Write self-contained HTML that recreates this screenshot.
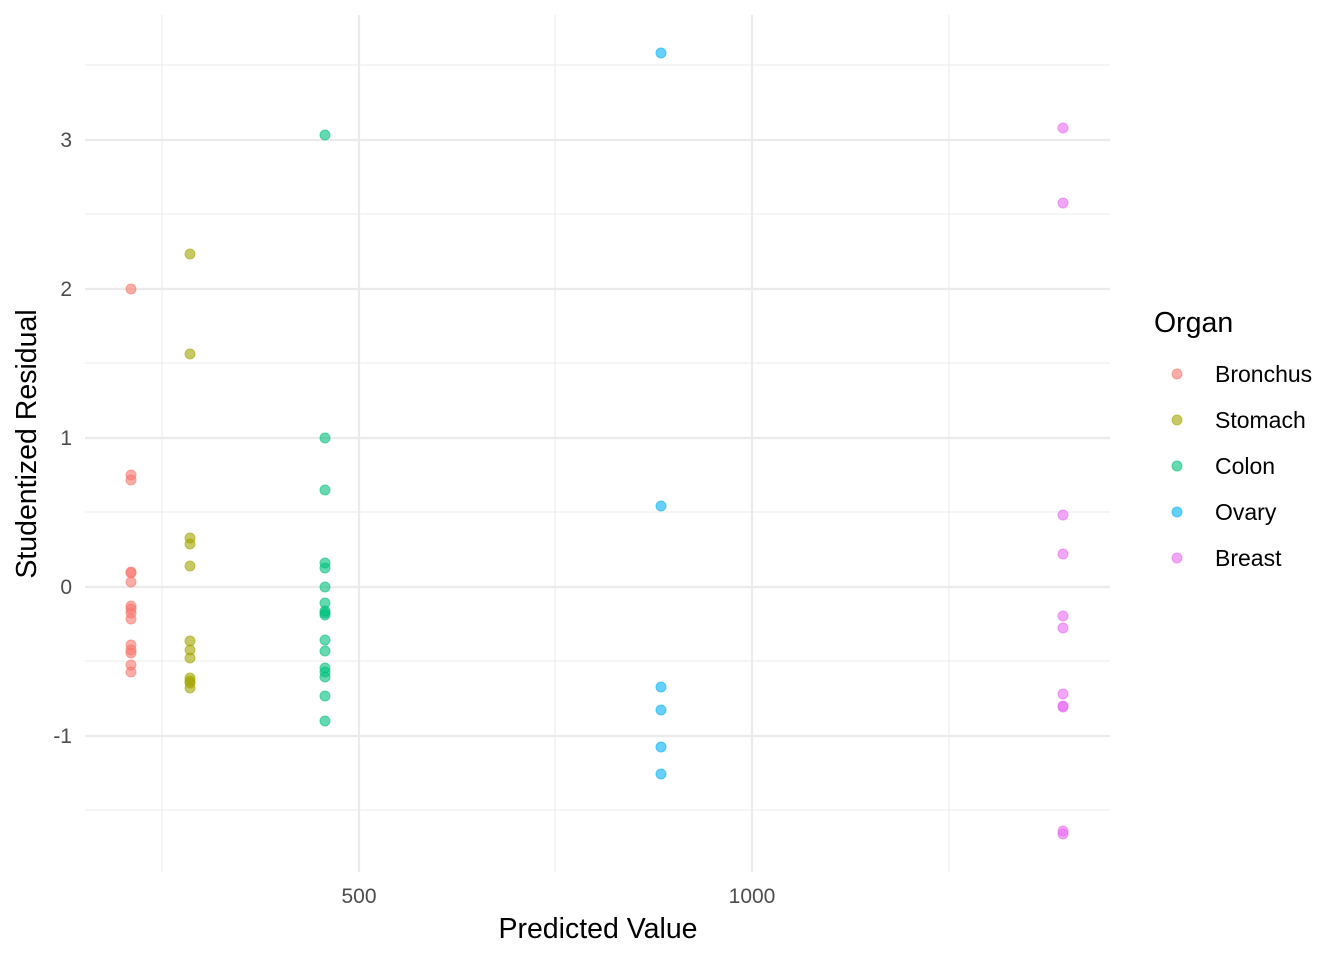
<!DOCTYPE html>
<html><head><meta charset="utf-8"><style>body{margin:0;background:#fff}</style></head><body>
<svg width="1344" height="960" xmlns="http://www.w3.org/2000/svg" font-family="Liberation Sans, sans-serif">
<g stroke="#ebebeb" stroke-width="1.1">
<line x1="85" x2="1110" y1="65" y2="65"/><line x1="85" x2="1110" y1="214" y2="214"/><line x1="85" x2="1110" y1="363" y2="363"/><line x1="85" x2="1110" y1="512" y2="512"/><line x1="85" x2="1110" y1="661" y2="661"/><line x1="85" x2="1110" y1="810" y2="810"/>
<line x1="162" x2="162" y1="15" y2="872"/><line x1="555" x2="555" y1="15" y2="872"/><line x1="949" x2="949" y1="15" y2="872"/>
</g>
<g stroke="#ebebeb" stroke-width="2.2">
<line x1="85" x2="1110" y1="140" y2="140"/><line x1="85" x2="1110" y1="289" y2="289"/><line x1="85" x2="1110" y1="438" y2="438"/><line x1="85" x2="1110" y1="587" y2="587"/><line x1="85" x2="1110" y1="736" y2="736"/>
<line x1="359" x2="359" y1="15" y2="872"/><line x1="752" x2="752" y1="15" y2="872"/>
</g>
<g font-size="21" fill="#4d4d4d" text-anchor="end">
<text x="72" y="147">3</text><text x="72" y="296">2</text><text x="72" y="445">1</text><text x="72" y="594">0</text><text x="72" y="743">-1</text>
</g>
<g font-size="21" fill="#4d4d4d" text-anchor="middle">
<text x="359" y="903">500</text><text x="752" y="903">1000</text>
</g>
<text x="598" y="938" font-size="28.5" text-anchor="middle">Predicted Value</text>
<text transform="translate(36,444) rotate(-90)" font-size="28.5" text-anchor="middle">Studentized Residual</text>
<text x="1154" y="332" font-size="28.5">Organ</text>
<g font-size="23">
<circle cx="1177" cy="374" r="5" fill="#F8766D" fill-opacity="0.6" stroke="#F8766D" stroke-opacity="0.6"/><text x="1215" y="382">Bronchus</text>
<circle cx="1177" cy="420" r="5" fill="#A3A500" fill-opacity="0.6" stroke="#A3A500" stroke-opacity="0.6"/><text x="1215" y="428">Stomach</text>
<circle cx="1177" cy="466" r="5" fill="#00BF7D" fill-opacity="0.6" stroke="#00BF7D" stroke-opacity="0.6"/><text x="1215" y="474">Colon</text>
<circle cx="1177" cy="512" r="5" fill="#00B0F6" fill-opacity="0.6" stroke="#00B0F6" stroke-opacity="0.6"/><text x="1215" y="520">Ovary</text>
<circle cx="1177" cy="558" r="5" fill="#E76BF3" fill-opacity="0.6" stroke="#E76BF3" stroke-opacity="0.6"/><text x="1215" y="566">Breast</text>
</g>
<g fill-opacity="0.6" stroke-opacity="0.6" stroke-width="1">
<g fill="#F8766D" stroke="#F8766D">
<circle cx="131" cy="289" r="5"/><circle cx="131" cy="475" r="5"/><circle cx="131" cy="480" r="5"/><circle cx="131" cy="572" r="5"/><circle cx="131" cy="573" r="5"/><circle cx="131" cy="582" r="5"/><circle cx="131" cy="606" r="5"/><circle cx="131" cy="609" r="5"/><circle cx="131" cy="613" r="5"/><circle cx="131" cy="619" r="5"/><circle cx="131" cy="645" r="5"/><circle cx="131" cy="650" r="5"/><circle cx="131" cy="653" r="5"/><circle cx="131" cy="665" r="5"/><circle cx="131" cy="672" r="5"/>
</g>
<g fill="#A3A500" stroke="#A3A500">
<circle cx="190" cy="254" r="5"/><circle cx="190" cy="354" r="5"/><circle cx="190" cy="538" r="5"/><circle cx="190" cy="544" r="5"/><circle cx="190" cy="566" r="5"/><circle cx="190" cy="641" r="5"/><circle cx="190" cy="650" r="5"/><circle cx="190" cy="658" r="5"/><circle cx="190" cy="678" r="5"/><circle cx="190" cy="681" r="5"/><circle cx="190" cy="683" r="5"/><circle cx="190" cy="688" r="5"/>
</g>
<g fill="#00BF7D" stroke="#00BF7D">
<circle cx="325" cy="135" r="5"/><circle cx="325" cy="438" r="5"/><circle cx="325" cy="490" r="5"/><circle cx="325" cy="563" r="5"/><circle cx="325" cy="568" r="5"/><circle cx="325" cy="587" r="5"/><circle cx="325" cy="603" r="5"/><circle cx="325" cy="611" r="5"/><circle cx="325" cy="613" r="5"/><circle cx="325" cy="615" r="5"/><circle cx="325" cy="640" r="5"/><circle cx="325" cy="651" r="5"/><circle cx="325" cy="668" r="5"/><circle cx="325" cy="672" r="5"/><circle cx="325" cy="677" r="5"/><circle cx="325" cy="696" r="5"/><circle cx="325" cy="721" r="5"/>
</g>
<g fill="#00B0F6" stroke="#00B0F6">
<circle cx="661" cy="53" r="5"/><circle cx="661" cy="506" r="5"/><circle cx="661" cy="687" r="5"/><circle cx="661" cy="710" r="5"/><circle cx="661" cy="747" r="5"/><circle cx="661" cy="774" r="5"/>
</g>
<g fill="#E76BF3" stroke="#E76BF3">
<circle cx="1063" cy="128" r="5"/><circle cx="1063" cy="203" r="5"/><circle cx="1063" cy="515" r="5"/><circle cx="1063" cy="554" r="5"/><circle cx="1063" cy="616" r="5"/><circle cx="1063" cy="628" r="5"/><circle cx="1063" cy="694" r="5"/><circle cx="1063" cy="706" r="5"/><circle cx="1063" cy="707" r="5"/><circle cx="1063" cy="831" r="5"/><circle cx="1063" cy="834" r="5"/>
</g>
</g>
</svg>
</body></html>
